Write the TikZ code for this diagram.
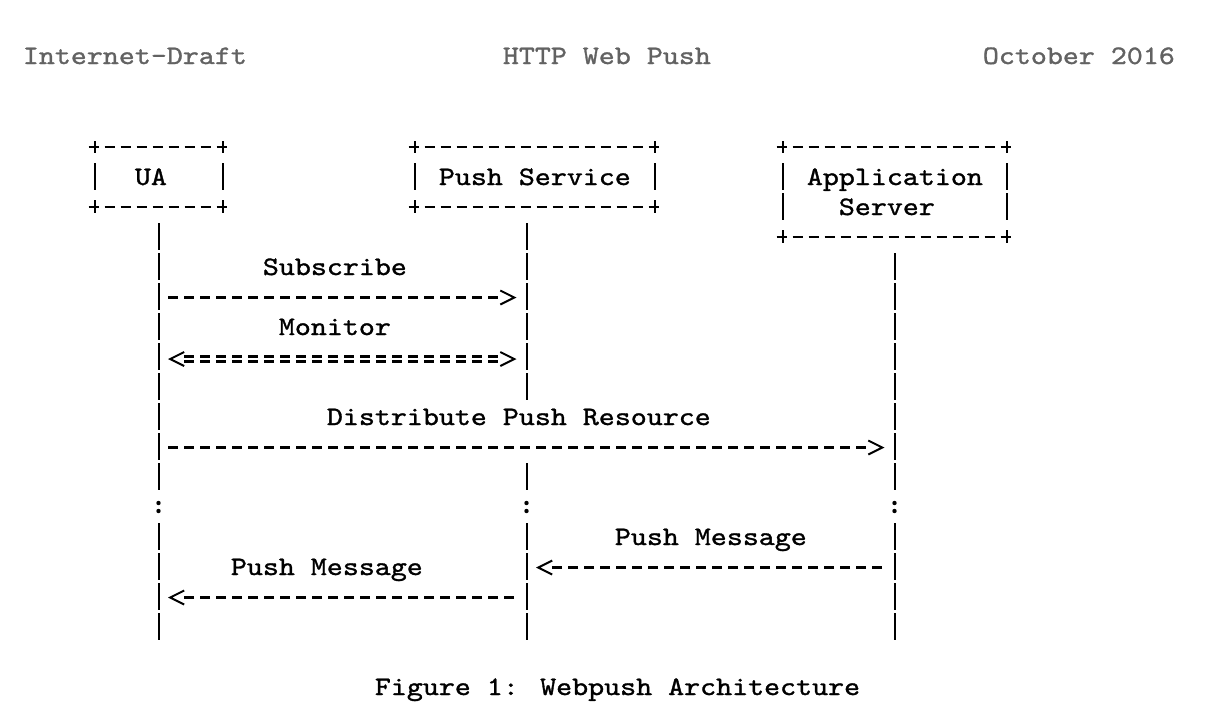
\documentclass[tikz,border=0pt]{standalone}
\usepackage{fontspec}
\usetikzlibrary{arrows.meta}
\newfontfamily\rfcfont{lmmono10-regular.otf}[FakeStretch=1.143, FakeBold=1.2]
\definecolor{hdrgray}{RGB}{98,98,98}
\begin{document}
\begin{tikzpicture}[x=0.5pt, y=-0.5pt,
    >={Straight Barb[length=7pt, width=7pt, line width=1pt]},
    txt/.style={anchor=base west, inner sep=0pt,
      font=\rfcfont\fontsize{13.33}{15}\selectfont},
    actor/.style={rectangle, inner sep=0pt, outer sep=0pt},
    hdash/.style={line width=1.4pt, dash pattern=on 5pt off 3pt},
    side/.style={line width=1pt, dash pattern=on 6pt off 5pt on 13.5pt off 5pt on 7pt},
    tallside/.style={line width=1pt,
      dash pattern=on 6pt off 5pt on 13.5pt off 1.5pt on 13.5pt off 5pt on 7pt},
    life/.style={line width=1pt, dash pattern=on 13.5pt off 1.5pt},
    msg/.style={line width=1.4pt, dash pattern=on 5pt off 3pt},
    eqline/.style={line width=1.1pt, dash pattern=on 5pt off 3pt},
    tip/.style={line width=1pt, dash pattern=on 0pt off 800pt}]
  \useasboundingbox (0,0) rectangle (1210,724);
  % page header
  \begin{scope}[every node/.style={txt, text=hdrgray}]
    \node (draft) at (22.5,64) {Internet-Draft}; \node (title) at
    (502.5,64) {HTTP Web Push}; \node (date) at (982.5,64) {October 2016};
  \end{scope}
  % actors
  \node[actor, minimum width=64pt, minimum height=30pt] (ua) at (158.5,177) {};
  \node[actor, minimum width=120pt, minimum height=30pt] (ps) at (534.5,177) {};
  \node[actor, minimum width=112pt, minimum height=45pt] (as) at (894.5,192) {};
  \foreach \b/\s in {ua/side, ps/side, as/tallside} {
    \draw[hdash] ([xshift=-3pt]\b.north west) -- ([xshift=2pt]\b.north east);
    \draw[hdash] ([xshift=-3pt]\b.south west) -- ([xshift=2pt]\b.south east);
    \draw[\s] ([yshift=3pt]\b.north west) -- ([yshift=-3pt]\b.south west);
    \draw[\s] ([yshift=3pt]\b.north east) -- ([yshift=-3pt]\b.south east);
  }
  \begin{scope}[every node/.style={txt}]
    \node (ua-name) at (134.5,185) {UA}; \node (ps-name) at (438.5,185)
    {Push Service}; \node (as-name) at (806.5,185) {Application};
    \node (as-name2) at (838.5,215) {Server};
  \end{scope}
  % lifelines, broken at the colons
  \coordinate (ua-top) at ([yshift=-8pt]ua.south);
  \coordinate (ps-top) at ([xshift=-4pt, yshift=-8pt]ps.south);
  \coordinate (as-top) at ([yshift=-8pt]as.south);
  \coordinate (gap-a) at (0,400); \coordinate (gap-b) at (0,463);
  \coordinate (brk-a) at (0,490); \coordinate (brk-b) at (0,523);
  \coordinate (dot-a) at (0,503); \coordinate (dot-b) at (0,511);
  \coordinate (life-end) at (0,640);
  \draw[life] (ua-top) -- (ua-top |- brk-a); \draw[life] (as-top) --
  (as-top |- brk-a); \draw[life] (ps-top) -- (ps-top |- gap-a);
  \draw[life] (ps-top |- gap-b) -- (ps-top |- brk-a);
  \foreach \b in {ua,ps,as} {
    \draw[life] (\b-top |- brk-b) -- (\b-top |- life-end);
    \fill (\b-top |- dot-a) circle[radius=1.1pt] (\b-top |- dot-b) circle[radius=1.1pt];
  }
  % messages
  \coordinate (sub) at (0,297.5); \coordinate (mon) at (0,359);
  \coordinate (dist) at (0,447.5); \coordinate (pm-as) at (0,567.5);
  \coordinate (pm-ps) at (0,597.5);
  \draw[msg, shorten <=4.75pt, shorten >=14.25pt] (ua-top |- sub) -- (ps-top |- sub);
  \draw[tip, ->, shorten >=5pt] (ua-top |- sub) -- (ps-top |- sub);
  \draw[eqline, transform canvas={yshift=1.25pt}, shorten <=12.75pt,
    shorten >=14.25pt] (ua-top |- mon) -- (ps-top |- mon);
  \draw[eqline, transform canvas={yshift=-1.25pt}, shorten <=12.75pt,
    shorten >=14.25pt] (ua-top |- mon) -- (ps-top |- mon);
  \draw[tip, <->, shorten <=4.75pt, shorten >=5pt] (ua-top |- mon) -- (ps-top |- mon);
  \draw[msg, shorten <=4.75pt, shorten >=14.25pt] (ua-top |- dist) -- (as-top |- dist);
  \draw[tip, ->, shorten >=5pt] (ua-top |- dist) -- (as-top |- dist);
  \draw[msg, shorten <=6.25pt, shorten >=12.75pt] (as-top |- pm-as) -- (ps-top |- pm-as);
  \draw[tip, ->, shorten >=4.75pt] (as-top |- pm-as) -- (ps-top |- pm-as);
  \draw[msg, shorten <=6.25pt, shorten >=12.75pt] (ps-top |- pm-ps) -- (ua-top |- pm-ps);
  \draw[tip, ->, shorten >=4.75pt] (ps-top |- pm-ps) -- (ua-top |- pm-ps);
  \begin{scope}[every node/.style={txt}]
    \node (sub-lbl) at (262.5,275) {Subscribe}; \node (mon-lbl) at
    (278.5,335) {Monitor}; \node (dist-lbl) at (326.5,425) {Distribute
      Push Resource}; \node (pm-as-lbl) at (614.5,545) {Push Message};
    \node (pm-ps-lbl) at (230.5,575) {Push Message};
  \end{scope}
  % caption
  \node[txt] (caption) at (374.5,695) {Figure 1: Webpush Architecture};
\end{tikzpicture}
\end{document}
